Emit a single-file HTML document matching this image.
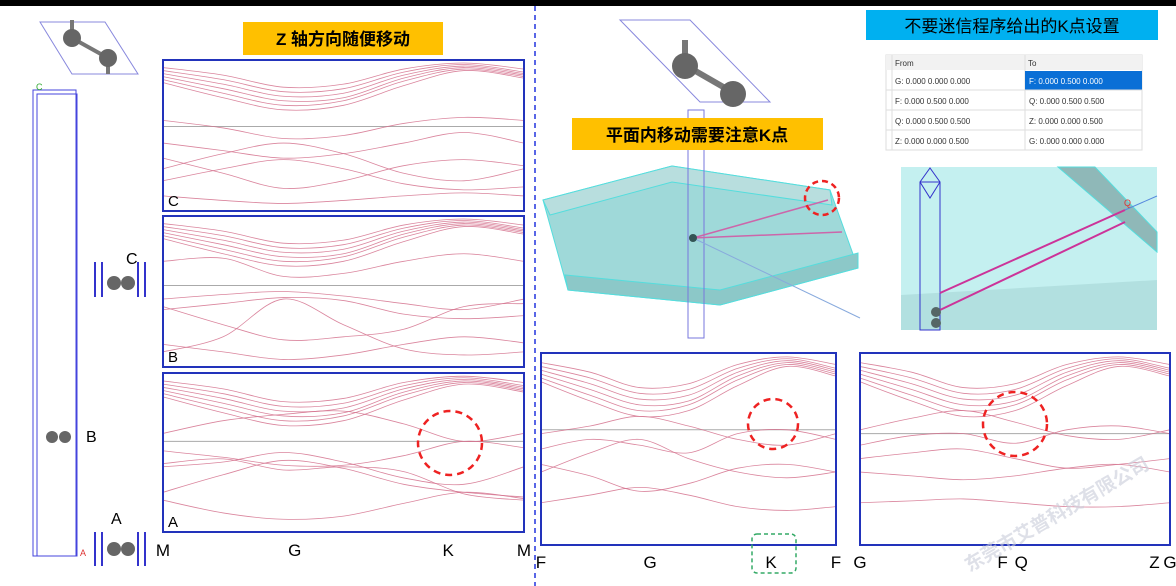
<!DOCTYPE html>
<html><head><meta charset="utf-8">
<style>
body{margin:0;background:#fff;width:1176px;height:586px;overflow:hidden;font-family:"Liberation Sans","Noto Sans CJK SC",sans-serif;}
svg{position:absolute;left:0;top:0}
</style></head>
<body>
<svg id="s" width="1176" height="586" viewBox="0 0 1176 586" font-family="Liberation Sans, Noto Sans CJK SC, sans-serif">
<rect x="0" y="0" width="1176" height="6" fill="#000"/>
<line x1="535" y1="6" x2="535" y2="586" stroke="#2233dd" stroke-width="1.5" stroke-dasharray="5,4"/>

<g>
<polygon points="40,22 105,22 138,74 72,74" fill="none" stroke="#8888dd"/>
<line x1="72" y1="38" x2="72" y2="20" stroke="#777" stroke-width="4"/>
<line x1="72" y1="38" x2="108" y2="58" stroke="#777" stroke-width="4"/>
<line x1="108" y1="58" x2="108" y2="74" stroke="#777" stroke-width="4"/>
<circle cx="72" cy="38" r="9" fill="#666"/><circle cx="108" cy="58" r="9" fill="#666"/>
</g>
<g>
<rect x="33" y="90" width="43" height="466" fill="none" stroke="#4444dd"/>
<rect x="37" y="94" width="40" height="462" fill="none" stroke="#4444dd"/>
<text x="36" y="90" font-size="9" fill="#3a3">C</text>
<text x="80" y="556" font-size="9" fill="#d33">A</text>
<circle cx="52" cy="437" r="6" fill="#666"/><circle cx="65" cy="437" r="6" fill="#666"/>
</g>
<text x="86" y="442" font-size="16">B</text>
<g>
<line x1="95" y1="262" x2="95" y2="297" stroke="#33c" stroke-width="2"/><line x1="102" y1="262" x2="102" y2="297" stroke="#33c" stroke-width="2"/>
<line x1="138" y1="262" x2="138" y2="297" stroke="#33c" stroke-width="2"/><line x1="145" y1="262" x2="145" y2="297" stroke="#33c" stroke-width="2"/>
<circle cx="114" cy="283" r="7" fill="#666"/><circle cx="128" cy="283" r="7" fill="#666"/>
<text x="126" y="264" font-size="16">C</text></g>
<g>
<line x1="95" y1="532" x2="95" y2="566" stroke="#33c" stroke-width="2"/><line x1="102" y1="532" x2="102" y2="566" stroke="#33c" stroke-width="2"/>
<line x1="138" y1="532" x2="138" y2="566" stroke="#33c" stroke-width="2"/><line x1="145" y1="532" x2="145" y2="566" stroke="#33c" stroke-width="2"/>
<circle cx="114" cy="549" r="7" fill="#666"/><circle cx="128" cy="549" r="7" fill="#666"/>
<text x="111" y="524" font-size="16">A</text></g>

<rect x="243" y="22" width="200" height="33" fill="#FFC000"/>
<text x="343" y="45" font-size="17" font-weight="bold" text-anchor="middle">Z 轴方向随便移动</text>

<g id="panels"></g>

<rect x="866" y="10" width="292" height="30" fill="#00B0F0"/>
<text x="1012" y="32" font-size="17" text-anchor="middle">不要迷信程序给出的K点设置</text>
<g font-size="8" fill="#333">
<rect x="886" y="55" width="256" height="95" fill="#fff" stroke="#ddd"/>
<rect x="886" y="55" width="256" height="15" fill="#f2f2f2"/>
<line x1="1025" y1="55" x2="1025" y2="150" stroke="#ddd"/>
<line x1="892" y1="55" x2="892" y2="150" stroke="#ddd"/>
<rect x="1025" y="71" width="117" height="19" fill="#0a6fd6"/>
<line x1="886" y1="90" x2="1142" y2="90" stroke="#ddd"/><line x1="886" y1="110" x2="1142" y2="110" stroke="#ddd"/><line x1="886" y1="130" x2="1142" y2="130" stroke="#ddd"/>
<text x="895" y="66">From</text><text x="1028" y="66">To</text>
<text x="895" y="84">G: 0.000 0.000 0.000</text><text x="1029" y="84" fill="#fff">F: 0.000 0.500 0.000</text>
<text x="895" y="104">F: 0.000 0.500 0.000</text><text x="1029" y="104">Q: 0.000 0.500 0.500</text>
<text x="895" y="124">Q: 0.000 0.500 0.500</text><text x="1029" y="124">Z: 0.000 0.000 0.500</text>
<text x="895" y="144">Z: 0.000 0.000 0.500</text><text x="1029" y="144">G: 0.000 0.000 0.000</text>
</g>

<g>
<polygon points="543,200 672,166 830,190 858,268 720,305 568,290" fill="#9fd9d9" stroke="#5dd" />
<polygon points="543,200 672,166 830,190 832,205 672,182 550,215" fill="#b8dede" stroke="#5dd"/>
<polygon points="568,290 720,305 858,268 858,253 720,290 565,275" fill="#8cc8c8" stroke="#5dd"/>
<polygon points="620,20 690,20 770,102 700,102" fill="none" stroke="#8888dd"/>
<line x1="685" y1="65" x2="685" y2="40" stroke="#777" stroke-width="6"/>
<line x1="685" y1="65" x2="732" y2="92" stroke="#777" stroke-width="6"/>
<circle cx="685" cy="66" r="13" fill="#666"/><circle cx="733" cy="94" r="13" fill="#666"/>
<rect x="688" y="110" width="16" height="228" fill="none" stroke="#77d"/>
<line x1="693" y1="238" x2="828" y2="200" stroke="#c6a" stroke-width="1.5"/>
<line x1="693" y1="238" x2="842" y2="232" stroke="#c6a" stroke-width="1.5"/>
<line x1="693" y1="238" x2="860" y2="318" stroke="#8ad" stroke-width="1"/>
<circle cx="693" cy="238" r="4" fill="#355"/>
<circle cx="822" cy="198" r="17" fill="none" stroke="#e22" stroke-width="2.5" stroke-dasharray="6,4"/>
</g>
<rect x="572" y="118" width="251" height="32" fill="#FFC000"/>
<text x="697" y="141" font-size="17" font-weight="bold" text-anchor="middle">平面内移动需要注意K点</text>

<g>
<rect x="901" y="167" width="256" height="163" fill="#c4f0f0"/>
<polygon points="901,295 1157,280 1157,330 901,330" fill="#b2e0e0"/>
<polygon points="1058,167 1095,167 1157,232 1157,252" fill="#8fb8b8" stroke="#5dd"/>
<polygon points="920,182 930,168 940,182 930,198" fill="none" stroke="#33c"/>
<rect x="920" y="182" width="20" height="148" fill="none" stroke="#33c"/>
<line x1="940" y1="293" x2="1125" y2="210" stroke="#c39" stroke-width="2"/>
<line x1="940" y1="310" x2="1125" y2="222" stroke="#c39" stroke-width="2"/>
<line x1="1125" y1="210" x2="1157" y2="196" stroke="#58d"/>
<text x="1124" y="206" font-size="9" fill="#d33">Q</text>
<circle cx="936" cy="312" r="5" fill="#566"/><circle cx="936" cy="323" r="5" fill="#566"/>
</g>
<circle cx="450" cy="443" r="32" fill="none" stroke="#e22" stroke-width="2.5" stroke-dasharray="7,5"/>
<circle cx="773" cy="424" r="25" fill="none" stroke="#e22" stroke-width="2.5" stroke-dasharray="7,5"/>
<circle cx="1015" cy="424" r="32" fill="none" stroke="#e22" stroke-width="2.5" stroke-dasharray="7,5"/>
<rect x="752" y="534" width="44" height="39" rx="5" fill="none" stroke="#3a6" stroke-width="1.5" stroke-dasharray="4,3"/>
<text x="1060" y="520" font-size="19" font-weight="bold" fill="#c8ccd8" fill-opacity="0.6" transform="rotate(-30 1060 520)" text-anchor="middle">东莞市艾普科技有限公司</text>
</svg>
<script>
const topCluster = [
 [0.05,0.10,0.18,0.16,0.06,0.02,0.06],
 [0.07,0.13,0.21,0.19,0.08,0.03,0.08],
 [0.09,0.16,0.24,0.22,0.10,0.04,0.09],
 [0.11,0.19,0.27,0.25,0.12,0.05,0.10],
 [0.13,0.22,0.30,0.27,0.14,0.06,0.11],
 [0.15,0.25,0.33,0.30,0.17,0.07,0.12]
];
const lowBandsA = [
 [0.38,0.30,0.26,0.24,0.32,0.43,0.38],
 [0.49,0.53,0.58,0.58,0.52,0.43,0.47],
 [0.59,0.56,0.50,0.56,0.66,0.70,0.59],
 [0.57,0.54,0.61,0.59,0.62,0.76,0.80],
 [0.75,0.64,0.55,0.60,0.70,0.75,0.78],
 [0.80,0.88,0.92,0.90,0.82,0.75,0.79]
];
const lowBandsB = [
 [0.55,0.52,0.50,0.53,0.58,0.62,0.55],
 [0.62,0.58,0.54,0.56,0.65,0.68,0.66],
 [0.90,0.80,0.55,0.72,0.88,0.92,0.90],
 [0.60,0.72,0.82,0.80,0.75,0.60,0.58],
 [0.85,0.90,0.95,0.92,0.85,0.80,0.84],
 [0.30,0.28,0.40,0.38,0.30,0.25,0.30]
];
const lowBandsC = [
 [0.40,0.45,0.52,0.50,0.42,0.38,0.40],
 [0.55,0.60,0.65,0.62,0.55,0.48,0.55],
 [0.72,0.62,0.55,0.62,0.75,0.80,0.72],
 [0.80,0.72,0.66,0.72,0.82,0.86,0.84],
 [0.65,0.75,0.85,0.80,0.70,0.66,0.70],
 [0.90,0.93,0.95,0.93,0.90,0.88,0.90]
];
const lowBandsD = [
 [0.42,0.38,0.33,0.38,0.45,0.48,0.42],
 [0.50,0.45,0.48,0.52,0.42,0.40,0.45],
 [0.62,0.52,0.45,0.55,0.62,0.65,0.62],
 [0.58,0.64,0.72,0.68,0.60,0.58,0.62],
 [0.78,0.74,0.70,0.74,0.80,0.82,0.80]
];
const lowBandsE = [
 [0.40,0.34,0.30,0.36,0.43,0.45,0.40],
 [0.48,0.43,0.42,0.47,0.40,0.38,0.42],
 [0.55,0.52,0.50,0.55,0.60,0.58,0.55],
 [0.62,0.64,0.66,0.64,0.60,0.58,0.62],
 [0.78,0.77,0.76,0.78,0.80,0.80,0.78]
];
const panels = [
 {name:'band-panel-c',x:163,y:60,w:361,h:151,fermi:0.44,bands:lowBandsC,label:'C',ticks:[]},
 {name:'band-panel-b',x:163,y:216,w:361,h:151,fermi:0.46,bands:lowBandsB,label:'B',ticks:[]},
 {name:'band-panel-a',x:163,y:373,w:361,h:159,fermi:0.43,bands:lowBandsA,label:'A',ticks:[['M',0],['G',0.365],['K',0.79],['M',1]],ty:556},
 {name:'band-panel-inplane',x:541,y:353,w:295,h:192,fermi:0.40,bands:lowBandsD,label:'',ticks:[['F',0],['G',0.37],['K',0.78],['F',1]],ty:568},
 {name:'band-panel-kpath',x:860,y:353,w:310,h:192,fermi:0.42,bands:lowBandsE,label:'',ticks:[['G',0],['F',0.46],['Q',0.52],['Z',0.95],['G',1.0]],ty:568}
];
const NS='http://www.w3.org/2000/svg';
const g=document.getElementById('panels');
function mk(t,a){const e=document.createElementNS(NS,t);for(const k in a)e.setAttribute(k,a[k]);return e;}
function pathFor(p,vals){
 const pts=vals.map((v,i)=>[p.x+p.w*i/(vals.length-1),p.y+p.h*v]);
 let d='M'+pts[0][0]+','+pts[0][1];
 for(let i=0;i<pts.length-1;i++){
  const p0=pts[Math.max(0,i-1)],p1=pts[i],p2=pts[i+1],p3=pts[Math.min(pts.length-1,i+2)];
  const c1=[p1[0]+(p2[0]-p0[0])/6,p1[1]+(p2[1]-p0[1])/6],c2=[p2[0]-(p3[0]-p1[0])/6,p2[1]-(p3[1]-p1[1])/6];
  d+=' C'+c1+' '+c2+' '+p2;
 }
 return d;
}
panels.forEach(p=>{
 const grp=mk('g',{});
 
 
 grp.appendChild(mk('rect',{x:p.x,y:p.y,width:p.w,height:p.h,fill:'#fff'}));
 const fy=p.y+p.h*p.fermi;
 const fl=mk('line',{x1:p.x,y1:fy,x2:p.x+p.w,y2:fy,stroke:'#aaa','stroke-width':1});
 
 
 grp.appendChild(fl);
 topCluster.concat(p.bands).forEach(b=>{
  const path=mk('path',{d:pathFor(p,b),fill:'none',stroke:'#d4708c','stroke-width':0.8,'stroke-opacity':0.85});
  
  
  grp.appendChild(path);
 });
 grp.appendChild(mk('rect',{x:p.x,y:p.y,width:p.w,height:p.h,fill:'none',stroke:'#2233bb','stroke-width':2}));
 if(p.label){const t=mk('text',{x:p.x+5,y:p.y+p.h-5,'font-size':15});t.textContent=p.label;
  
  
  grp.appendChild(t);}
 p.ticks.forEach(([lab,f])=>{
  const t=mk('text',{x:p.x+p.w*f,y:p.ty,'font-size':17,'text-anchor':'middle'});t.textContent=lab;
  
  
  grp.appendChild(t);
 });
 g.appendChild(grp);
});
</script>
</body></html>
